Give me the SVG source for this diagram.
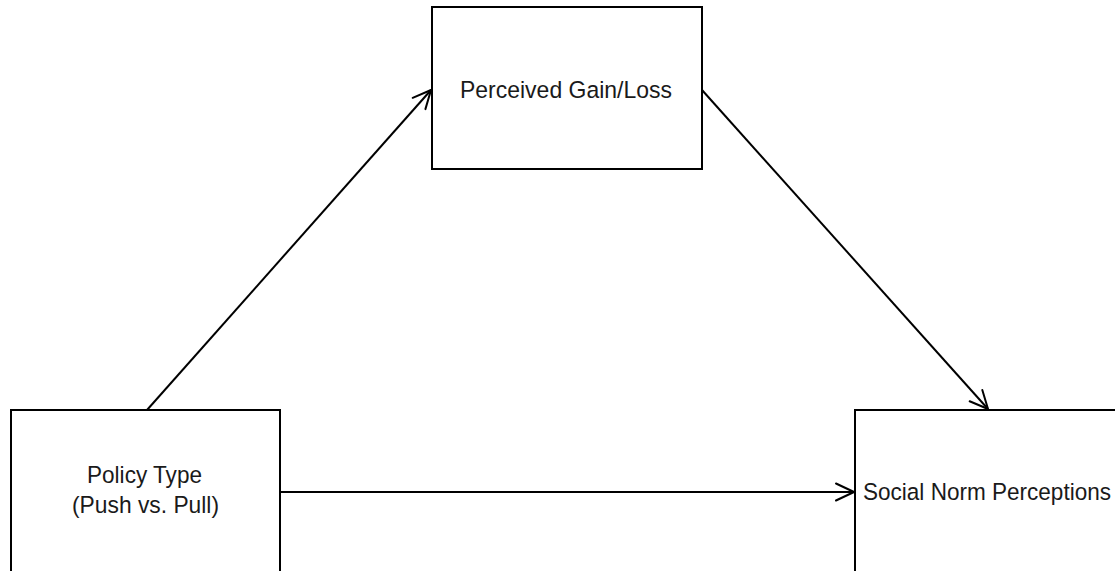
<svg xmlns="http://www.w3.org/2000/svg" width="1115" height="571" viewBox="0 0 1115 571">
<style>
.box{fill:#fff;stroke:#000;stroke-width:2}
.lbl{font-family:"Liberation Sans",Arial,sans-serif;font-size:24.5px;fill:#1a1a1a}
.edge{fill:none;stroke:#000;stroke-width:2}
</style>
<defs>
<marker id="arr" markerUnits="userSpaceOnUse" markerWidth="24" markerHeight="24" viewBox="0 0 24 24" refX="20" refY="12" orient="auto">
<path d="M2,3.5 L20,12 L2,20.5" fill="none" stroke="#000" stroke-width="2" stroke-linejoin="round" stroke-linecap="round"/>
</marker>
</defs>
<rect width="1115" height="571" fill="#fff"/>
<g id="connectors">
<line class="edge" x1="147" y1="410" x2="431" y2="90" marker-end="url(#arr)"/>
<line class="edge" x1="702" y1="90" x2="988" y2="409" marker-end="url(#arr)"/>
<line class="edge" x1="280" y1="492" x2="854" y2="492" marker-end="url(#arr)"/>
</g>
<g id="node-gain">
<rect class="box" x="432" y="7" width="270" height="162"/>
<text class="lbl" x="460" y="98" textLength="212" lengthAdjust="spacingAndGlyphs">Perceived Gain/Loss</text>
</g>
<g id="node-policy">
<rect class="box" x="11" y="410" width="269" height="200"/>
<text class="lbl" x="87" y="483" textLength="115" lengthAdjust="spacingAndGlyphs">Policy Type</text>
<text class="lbl" x="72" y="513" textLength="147" lengthAdjust="spacingAndGlyphs">(Push vs. Pull)</text>
</g>
<g id="node-social">
<rect class="box" x="855" y="410" width="300" height="200"/>
<text class="lbl" x="863" y="500" textLength="248" lengthAdjust="spacingAndGlyphs">Social Norm Perceptions</text>
</g>
</svg>
